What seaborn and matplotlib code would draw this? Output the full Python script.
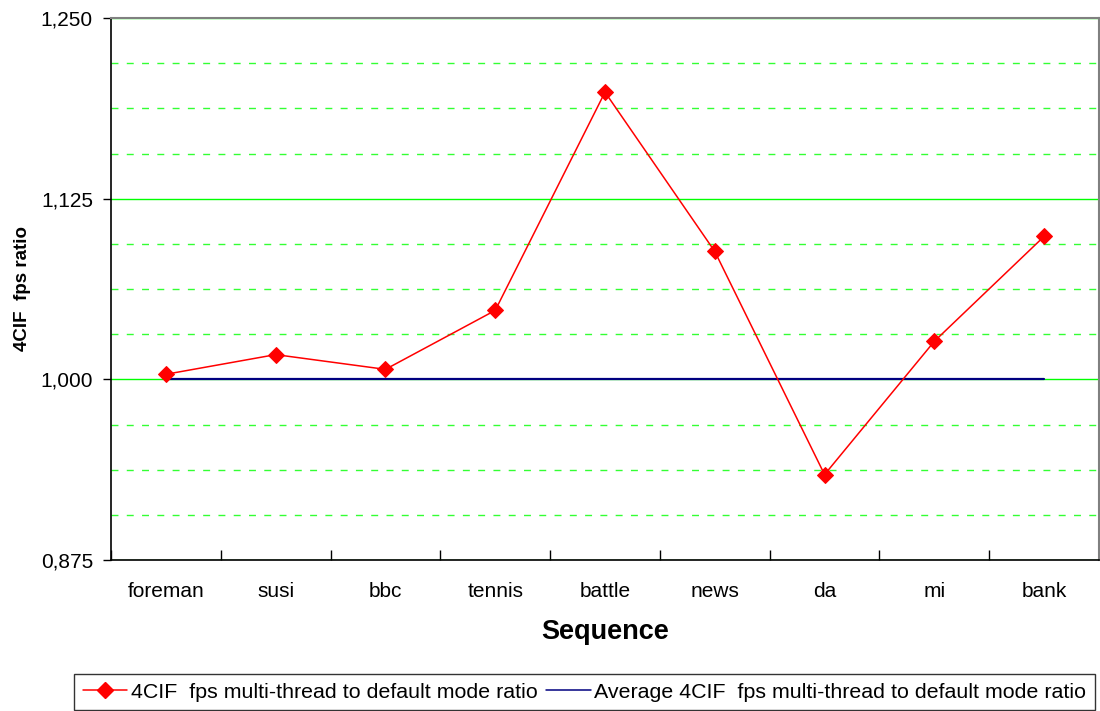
import matplotlib
matplotlib.use('Agg')
import matplotlib.pyplot as plt
import matplotlib.ticker as mticker
from matplotlib.lines import Line2D
import seaborn as sns
import pandas as pd

# data
sequences = ['foreman', 'susi', 'bbc', 'tennis', 'battle', 'news', 'da', 'mi', 'bank']
ratio = [1.0035, 1.0171, 1.0069, 1.0477, 1.1987, 1.0885, 0.9341, 1.0263, 1.0989]
average = [1.0, 1.0, 1.0, 1.0, 1.0, 1.0, 1.0, 1.0, 1.0]

label_ratio = '4CIF  fps multi-thread to default mode ratio'
label_avg = 'Average 4CIF  fps multi-thread to default mode ratio'

df = pd.DataFrame({'sequence': sequences, 'ratio': ratio, 'average': average})

sns.set_style('white')
plt.rcParams['font.family'] = ['Liberation Sans', 'DejaVu Sans']
plt.rcParams['text.color'] = 'black'
plt.rcParams['axes.labelcolor'] = 'black'
plt.rcParams['xtick.color'] = 'black'
plt.rcParams['ytick.color'] = 'black'

fig = plt.figure(figsize=(11, 7.11), dpi=100)
ax = fig.add_axes([111 / 1100, 1 - 560 / 711, 988 / 1100, 542 / 711])

# average line below, ratio line on top
sns.lineplot(data=df, x='sequence', y='average', color='#000080', linewidth=1.6,
             ax=ax, zorder=3, sort=False)
sns.lineplot(data=df, x='sequence', y='ratio', color='red', linewidth=1.1,
             marker='D', markersize=8, markeredgecolor='red', ax=ax, zorder=4, sort=False)

ax.set_xlim(-0.5, len(sequences) - 0.5)
ax.set_ylim(0.875, 1.25)

# y axis: major every 0.125, dashed minor grid every 1/32
ax.yaxis.set_major_locator(mticker.MultipleLocator(0.125))
ax.yaxis.set_minor_locator(mticker.MultipleLocator(0.03125))
ax.yaxis.set_major_formatter(mticker.FuncFormatter(lambda v, p: f'{v:.3f}'.replace('.', ',')))
ax.grid(True, which='major', axis='y', color='#00ff00', linewidth=1.0, zorder=1)
ax.grid(True, which='minor', axis='y', color='#33ff33', linewidth=1.0,
        linestyle=(0, (5, 6)), zorder=1)
ax.set_axisbelow(True)
ax.tick_params(axis='y', which='major', direction='out', length=6, width=1,
               labelsize=15, pad=7, left=True)
ax.tick_params(axis='y', which='minor', length=0)

# x axis: ticks between categories, pointing in
ax.set_xticks(range(len(sequences)))
ax.set_xticklabels(sequences)
ax.xaxis.set_minor_locator(mticker.FixedLocator([i - 0.5 for i in range(len(sequences) + 1)]))
ax.tick_params(axis='x', which='major', length=0, labelsize=15, pad=16)
ax.tick_params(axis='x', which='minor', direction='in', length=7, width=1, bottom=True)

ax.set_xlabel('Sequence', fontsize=19.5, fontweight='bold', labelpad=13)
ax.set_ylabel('4CIF  fps ratio', fontsize=13.5, fontweight='bold')
ax.yaxis.set_label_coords(-0.081, 0.5)

for side in ['left', 'bottom']:
    ax.spines[side].set_color('black')
    ax.spines[side].set_linewidth(1.2)
for side in ['top', 'right']:
    ax.spines[side].set_color('#808080')
    ax.spines[side].set_linewidth(1.5)

handles = [
    Line2D([], [], color='red', linewidth=1.1, marker='D', markersize=8),
    Line2D([], [], color='#000080', linewidth=1.1),
]
leg = fig.legend(handles, [label_ratio, label_avg], ncol=2, loc='upper left',
                 bbox_to_anchor=(74 / 1100, 1 - 674 / 711), borderaxespad=0,
                 fontsize=15.4, frameon=True, fancybox=False, handlelength=2.1,
                 handletextpad=0.15, columnspacing=0.4, borderpad=0.4)
leg.get_frame().set_edgecolor('black')
leg.get_frame().set_linewidth(1.0)

fig.savefig('out.png', dpi=100)
